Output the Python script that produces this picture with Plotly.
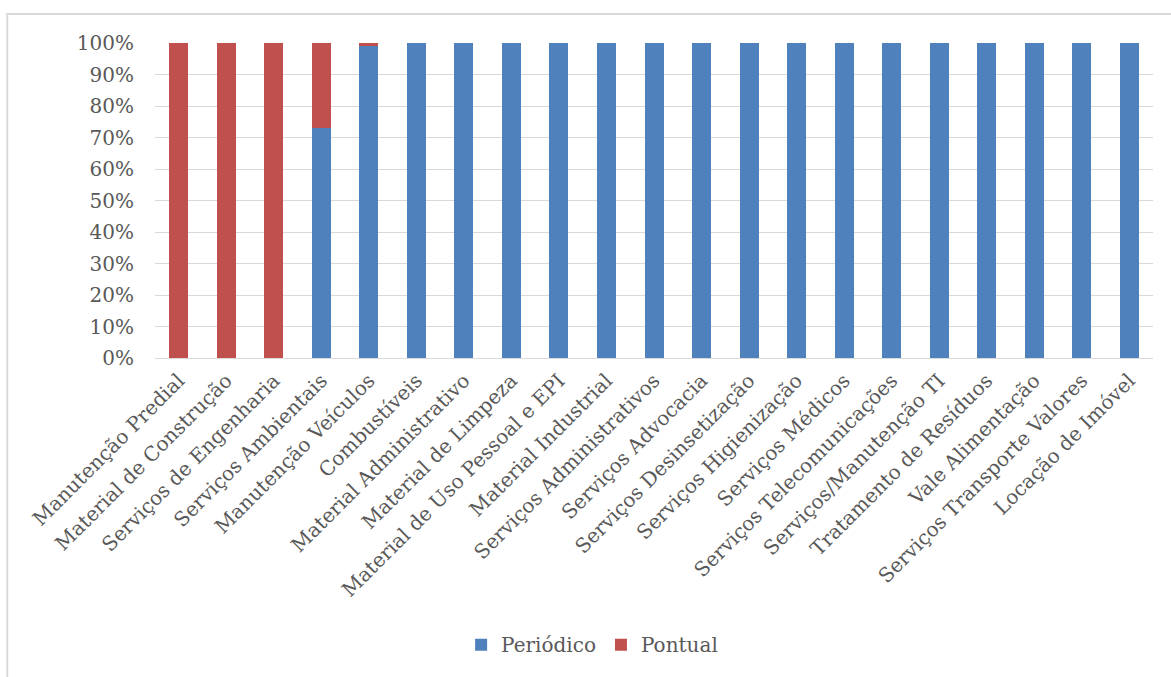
import plotly.graph_objects as go

categorias = [
    "Manutenção Predial", "Material de Construção", "Serviços de Engenharia",
    "Serviços Ambientais", "Manutenção Veículos", "Combustíveis",
    "Material Administrativo", "Material de Limpeza", "Material de Uso Pessoal e EPI",
    "Material Industrial", "Serviços Administrativos", "Serviços Advocacia",
    "Serviços Desinsetização", "Serviços Higienização", "Serviços Médicos",
    "Serviços Telecomunicações", "Serviços/Manutenção TI", "Tratamento de Resíduos",
    "Vale Alimentação", "Serviços Transporte Valores", "Locação de Imóvel",
]
periodico = [0, 0, 0, 73, 99, 100, 100, 100, 100, 100, 100,
             100, 100, 100, 100, 100, 100, 100, 100, 100, 100]
pontual = [100, 100, 100, 27, 1, 0, 0, 0, 0, 0, 0,
           0, 0, 0, 0, 0, 0, 0, 0, 0, 0]

FONT = "DejaVu Serif"
GREY = "#595959"

fig = go.Figure()
fig.add_trace(go.Bar(name="Periódico", x=categorias, y=periodico,
                     marker=dict(color="#4f81bd", line=dict(width=0))))
fig.add_trace(go.Bar(name="Pontual", x=categorias, y=pontual,
                     marker=dict(color="#c0504d", line=dict(width=0))))

fig.update_layout(
    barmode="stack",
    bargap=0.6,
    width=1171, height=677,
    margin=dict(l=155, r=18, t=43, b=319),
    paper_bgcolor="white", plot_bgcolor="white",
    font=dict(family=FONT, size=20, color=GREY),
    showlegend=True,
    legend=dict(orientation="h", x=0.438, xanchor="center", y=-0.91, yanchor="middle",
                font=dict(family=FONT, size=20, color=GREY),
                itemwidth=30, traceorder="normal"),
    xaxis=dict(tickangle=-45, showgrid=False, showline=False, ticks="",
               ticklabelstandoff=6,
               tickfont=dict(family=FONT, size=20, color=GREY)),
    yaxis=dict(range=[0, 100], dtick=10, ticksuffix="%", showgrid=True,
               gridcolor="#d9d9d9", gridwidth=1, zeroline=True,
               zerolinecolor="#d9d9d9", zerolinewidth=1, showline=False,
               ticks="", ticklabelstandoff=20,
               tickfont=dict(family=FONT, size=20, color=GREY)),
    shapes=[dict(type="rect", xref="paper", yref="paper",
                 x0=-0.148, x1=1.2, y0=-1.2, y1=1.092,
                 line=dict(color="#d9d9d9", width=2), layer="below")],
)

fig.write_html("out.html")
